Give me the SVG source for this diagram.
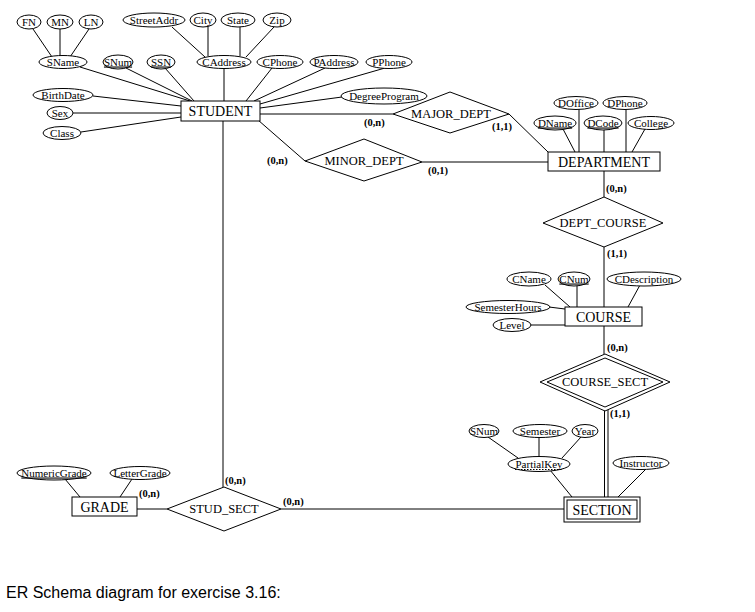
<svg xmlns="http://www.w3.org/2000/svg" width="755" height="612" viewBox="0 0 755 612">
<style>
text{font-family:"Liberation Serif","Times New Roman",serif;fill:#000;text-anchor:middle}
.a{font-size:11px}
.e{font-size:14px}
.r{font-size:12.5px}
.l{font-size:10.5px;font-weight:bold;text-anchor:start}
.u{text-decoration:underline}
ellipse,rect,polygon{fill:#fff;stroke:#000;stroke-width:1}
line{stroke:#000;stroke-width:1}
.cap{font-family:"Liberation Sans",Arial,sans-serif;font-size:16px;text-anchor:start}
</style>
<rect x="0" y="0" width="755" height="612" style="stroke:none"/>
<g id="connectors">
<line x1="33" y1="29" x2="52" y2="57"/>
<line x1="60" y1="29" x2="60" y2="56"/>
<line x1="89" y1="29" x2="70" y2="57"/>
<line x1="172" y1="27" x2="205" y2="57"/>
<line x1="208" y1="27" x2="208" y2="56"/>
<line x1="240" y1="27" x2="240" y2="56"/>
<line x1="274" y1="27" x2="246" y2="57"/>
<line x1="224" y1="68" x2="224" y2="101"/>
<line x1="80" y1="67" x2="190" y2="101"/>
<line x1="126" y1="68" x2="192" y2="101"/>
<line x1="165" y1="68" x2="194" y2="101"/>
<line x1="272" y1="68" x2="246" y2="101"/>
<line x1="325" y1="68" x2="254" y2="101"/>
<line x1="385" y1="68" x2="260" y2="104"/>
<line x1="342" y1="97" x2="260" y2="108"/>
<line x1="93" y1="96" x2="181" y2="106"/>
<line x1="73" y1="113" x2="181" y2="113"/>
<line x1="81" y1="132" x2="181" y2="117"/>
<line x1="260" y1="114" x2="393" y2="114"/>
<line x1="509" y1="114" x2="548" y2="152"/>
<line x1="258" y1="120" x2="305" y2="161"/>
<line x1="422" y1="162" x2="548" y2="162"/>
<line x1="563" y1="129" x2="575" y2="152"/>
<line x1="579" y1="109" x2="579" y2="152"/>
<line x1="604" y1="129" x2="604" y2="152"/>
<line x1="626" y1="109" x2="626" y2="152"/>
<line x1="645" y1="129" x2="632" y2="152"/>
<line x1="604" y1="171" x2="604" y2="197"/>
<line x1="604" y1="247" x2="604" y2="307"/>
<line x1="545" y1="285" x2="570" y2="307"/>
<line x1="577" y1="286" x2="577" y2="307"/>
<line x1="640" y1="285" x2="628" y2="307"/>
<line x1="549" y1="307" x2="565" y2="309"/>
<line x1="531" y1="325" x2="565" y2="325"/>
<line x1="604" y1="326" x2="604" y2="354"/>
<line x1="604.5" y1="410" x2="604.5" y2="497"/>
<line x1="608" y1="410" x2="608" y2="497"/>
<line x1="488" y1="437" x2="518" y2="458"/>
<line x1="539" y1="437" x2="539" y2="457"/>
<line x1="581" y1="437" x2="562" y2="458"/>
<line x1="550" y1="470" x2="572" y2="497"/>
<line x1="646" y1="469" x2="618" y2="497"/>
<line x1="223" y1="121" x2="223" y2="487"/>
<line x1="137" y1="509" x2="167" y2="509"/>
<line x1="281" y1="509" x2="564" y2="509"/>
<line x1="65" y1="479" x2="80" y2="497"/>
<line x1="132" y1="479" x2="120" y2="497"/>
</g>
<g id="labels">
<text class="l" x="364" y="126">(0,n)</text>
<text class="l" x="492" y="130">(1,1)</text>
<text class="l" x="267" y="164">(0,n)</text>
<text class="l" x="428" y="174">(0,1)</text>
<text class="l" x="606" y="192">(0,n)</text>
<text class="l" x="607" y="257">(1,1)</text>
<text class="l" x="607" y="351">(0,n)</text>
<text class="l" x="610" y="417">(1,1)</text>
<text class="l" x="225" y="484">(0,n)</text>
<text class="l" x="139" y="497">(0,n)</text>
<text class="l" x="283" y="505">(0,n)</text>
</g>
<g id="attr-FN"><ellipse cx="29" cy="22" rx="12" ry="7"/><text class="a" x="29" y="26">FN</text></g>
<g id="attr-MN"><ellipse cx="60" cy="22" rx="13" ry="7"/><text class="a" x="60" y="26">MN</text></g>
<g id="attr-LN"><ellipse cx="91" cy="22" rx="12" ry="7"/><text class="a" x="91" y="26">LN</text></g>
<g id="attr-SName"><ellipse cx="63" cy="62" rx="24" ry="6.5"/><text class="a" x="63" y="66">SName</text></g>
<g id="attr-SNum"><ellipse cx="118" cy="62" rx="15" ry="7"/><text class="a u" x="118" y="65.5">SNum</text></g>
<g id="attr-SSN"><ellipse cx="161" cy="62" rx="14" ry="7"/><text class="a u" x="161" y="65.5">SSN</text></g>
<g id="attr-StreetAddr"><ellipse cx="154" cy="20" rx="31" ry="7"/><text class="a" x="154" y="24">StreetAddr</text></g>
<g id="attr-City"><ellipse cx="203" cy="20" rx="13" ry="7"/><text class="a" x="203" y="24">City</text></g>
<g id="attr-State"><ellipse cx="238" cy="20" rx="17" ry="7"/><text class="a" x="238" y="24">State</text></g>
<g id="attr-Zip"><ellipse cx="277" cy="20" rx="14" ry="7"/><text class="a" x="277" y="24">Zip</text></g>
<g id="attr-CAddress"><ellipse cx="224" cy="62" rx="27" ry="6.5"/><text class="a" x="224" y="66">CAddress</text></g>
<g id="attr-CPhone"><ellipse cx="280" cy="62" rx="23" ry="6.5"/><text class="a" x="280" y="66">CPhone</text></g>
<g id="attr-PAddress"><ellipse cx="334" cy="62" rx="24" ry="6.5"/><text class="a" x="334" y="66">PAddress</text></g>
<g id="attr-PPhone"><ellipse cx="389" cy="62" rx="23" ry="6.5"/><text class="a" x="389" y="66">PPhone</text></g>
<g id="attr-DegreeProgram"><ellipse cx="384" cy="96" rx="43" ry="8"/><text class="a" x="384" y="100">DegreeProgram</text></g>
<g id="attr-BirthDate"><ellipse cx="63" cy="95" rx="30" ry="6.5"/><text class="a" x="63" y="99">BirthDate</text></g>
<g id="attr-Sex"><ellipse cx="60" cy="113" rx="13" ry="6.5"/><text class="a" x="60" y="117">Sex</text></g>
<g id="attr-Class"><ellipse cx="62" cy="133" rx="19" ry="6.5"/><text class="a" x="62" y="137">Class</text></g>
<g id="STUDENT"><rect x="181" y="101" width="79" height="20"/><text class="e" x="220.5" y="116">STUDENT</text></g>
<g id="MAJOR_DEPT"><polygon points="393,114 450,92 509,114 450,133"/><text class="r" x="451" y="118">MAJOR_DEPT</text></g>
<g id="MINOR_DEPT"><polygon points="305,161 364,139 422,162 364,181"/><text class="r" x="364" y="165">MINOR_DEPT</text></g>
<g id="attr-DOffice"><ellipse cx="576" cy="103" rx="22" ry="6.5"/><text class="a" x="576" y="107">DOffice</text></g>
<g id="attr-DPhone"><ellipse cx="625" cy="103" rx="22" ry="6.5"/><text class="a" x="625" y="107">DPhone</text></g>
<g id="attr-DName"><ellipse cx="555" cy="123" rx="21" ry="7"/><text class="a u" x="555" y="126.5">DName</text></g>
<g id="attr-DCode"><ellipse cx="603" cy="123" rx="19" ry="7"/><text class="a u" x="603" y="126.5">DCode</text></g>
<g id="attr-College"><ellipse cx="651" cy="123" rx="23" ry="6.5"/><text class="a" x="651" y="127">College</text></g>
<g id="DEPARTMENT"><rect x="548" y="152" width="112" height="19"/><text class="e" x="604" y="166.5">DEPARTMENT</text></g>
<g id="DEPT_COURSE"><polygon points="543,223 604,197 663,223 604,247"/><text class="r" x="603" y="227">DEPT_COURSE</text></g>
<g id="attr-CName"><ellipse cx="529" cy="279" rx="22" ry="7"/><text class="a" x="529" y="283">CName</text></g>
<g id="attr-CNum"><ellipse cx="574" cy="279" rx="16" ry="7"/><text class="a u" x="574" y="282.5">CNum</text></g>
<g id="attr-CDescription"><ellipse cx="644" cy="279" rx="37" ry="7"/><text class="a" x="644" y="283">CDescription</text></g>
<g id="attr-SemesterHours"><ellipse cx="508" cy="307" rx="42" ry="6.5"/><text class="a" x="508" y="311">SemesterHours</text></g>
<g id="attr-Level"><ellipse cx="512" cy="325" rx="19" ry="6.5"/><text class="a" x="512" y="329">Level</text></g>
<g id="COURSE"><rect x="565" y="307" width="77" height="19"/><text class="e" x="603.5" y="321.5">COURSE</text></g>
<g id="COURSE_SECT"><polygon points="540,382 605,354 670,382 605,411"/><polygon points="547,382 605,358 663,382 605,407"/><text class="r" x="605" y="386">COURSE_SECT</text></g>
<g id="attr-SNum2"><ellipse cx="484" cy="431" rx="15" ry="6.5"/><text class="a" x="484" y="435">SNum</text></g>
<g id="attr-Semester"><ellipse cx="540" cy="431" rx="27" ry="6.5"/><text class="a" x="540" y="435">Semester</text></g>
<g id="attr-Year"><ellipse cx="585" cy="431" rx="13" ry="6.5"/><text class="a" x="585" y="435">Year</text></g>
<g id="attr-PartialKey"><ellipse cx="539" cy="464" rx="31" ry="7.5"/><text class="a" x="539" y="467.5">PartialKey</text><line x1="515" y1="469.5" x2="563" y2="469.5" stroke-dasharray="1.5,1.5"/></g>
<g id="attr-Instructor"><ellipse cx="641" cy="463" rx="28" ry="6.5"/><text class="a" x="641" y="467">Instructor</text></g>
<g id="SECTION"><rect x="564" y="497" width="76" height="25"/><rect x="567" y="500" width="70" height="19"/><text class="e" x="602" y="514.5">SECTION</text></g>
<g id="STUD_SECT"><polygon points="167,509 224,487 281,509 224,531"/><text class="r" x="224" y="513">STUD_SECT</text></g>
<g id="attr-NumericGrade"><ellipse cx="54" cy="473" rx="37" ry="7"/><text class="a u" x="54" y="476.5">NumericGrade</text></g>
<g id="attr-LetterGrade"><ellipse cx="140" cy="473" rx="30" ry="6.5"/><text class="a" x="140" y="477">LetterGrade</text></g>
<g id="GRADE"><rect x="72" y="497" width="65" height="19"/><text class="e" x="104.5" y="511.5">GRADE</text></g>
<text class="cap" x="6" y="598">ER Schema diagram for exercise 3.16:</text>
</svg>
